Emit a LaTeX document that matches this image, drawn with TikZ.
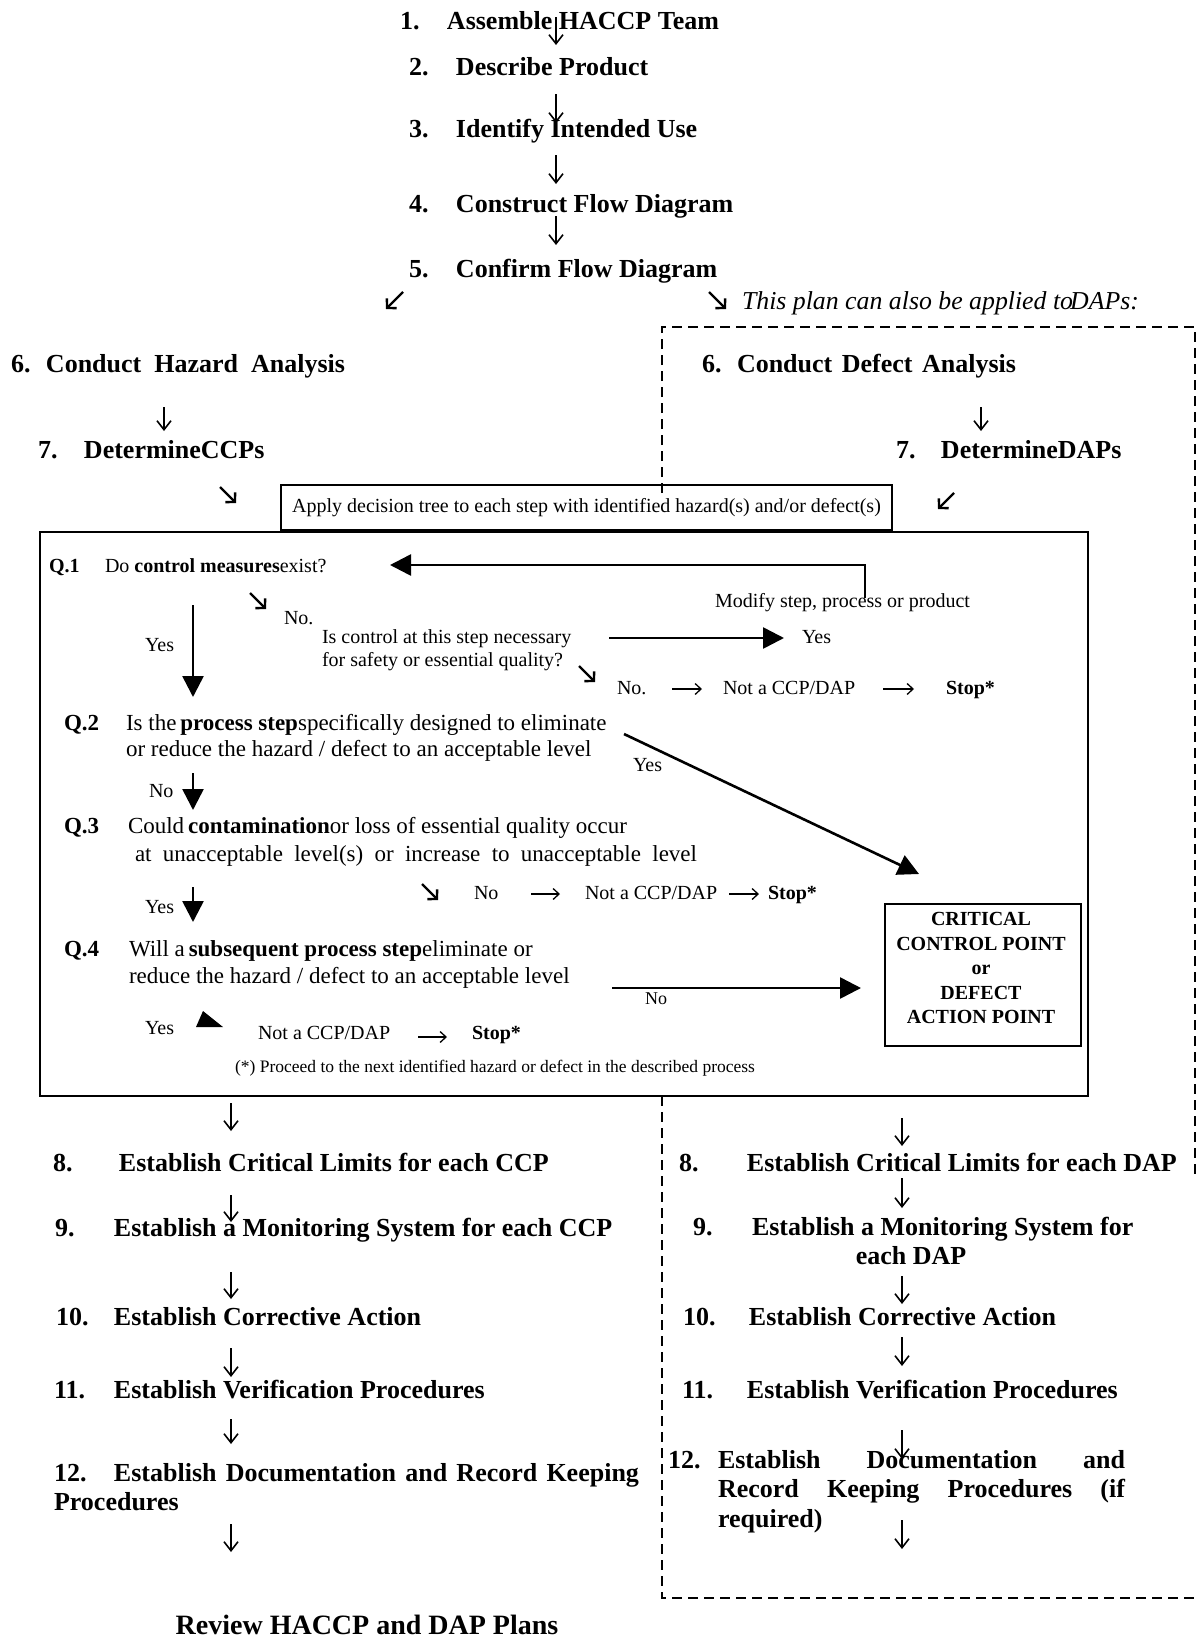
\documentclass[tikz,border=0pt]{standalone}
\usepackage{fontspec}
\setmainfont{Liberation Serif}
\usetikzlibrary{arrows.meta}
\begin{document}
\begin{tikzpicture}[x=1pt,y=-1pt,
  every node/.style={inner sep=0pt, outer sep=0pt},
  txtstep/.style={anchor=base west, font=\fontsize{26}{28}\selectfont\bfseries},
  txtq/.style={anchor=base west, font=\fontsize{23}{27}\selectfont, text height=16pt, text depth=5pt},
  txts/.style={anchor=base west, font=\fontsize{20}{24}\selectfont, text height=14pt, text depth=4pt},
  arrdn/.style={line width=1.6pt, -{Straight Barb[length=9pt,width=14pt]}},
  arrrt/.style={line width=1.3pt, -{Straight Barb[length=6pt,width=11pt]}},
  arrdg/.style={line width=2.4pt, -{Straight Barb[length=6.5pt,width=14pt]}},
  arrbig/.style={line width=2.6pt, line join=miter, -{Triangle[length=21pt,width=21pt]}},
  dashedge/.style={line width=2pt, dash pattern=on 10pt off 6pt},
]
\fill[white] (0,0) rectangle (1198,1638);
\useasboundingbox (0,0) rectangle (1198,1638);

% ---------- top steps ----------
\node[txtstep] (s1) at (400,29) {\makebox[47pt][l]{1.}Assemble HACCP Team};
\node[txtstep] (s2) at (409,75) {\makebox[47pt][l]{2.}Describe Product};
\node[txtstep] (s3) at (409,137) {\makebox[47pt][l]{3.}Identify Intended Use};
\node[txtstep] (s4) at (409,212) {\makebox[47pt][l]{4.}Construct Flow Diagram};
\node[txtstep] (s5) at (409,277) {\makebox[47pt][l]{5.}Confirm Flow Diagram};

\path (556,17) coordinate (a1s) (556,45) coordinate (a1e)
      (556,94) coordinate (a2s) (556,123) coordinate (a2e)
      (556,155) coordinate (a3s) (556,184) coordinate (a3e)
      (556,216) coordinate (a4s) (556,245) coordinate (a4e);
\draw[arrdn] (a1s) -- (a1e);
\draw[arrdn] (a2s) -- (a2e);
\draw[arrdn] (a3s) -- (a3e);
\draw[arrdn] (a4s) -- (a4e);

\path (403,292) coordinate (d1s) (386,309) coordinate (d1e)
      (709,292) coordinate (d2s) (726,309) coordinate (d2e);
\draw[arrdg] (d1s) -- (d1e);
\draw[arrdg] (d2s) -- (d2e);
\node[anchor=base west, font=\fontsize{25.8}{30}\selectfont\itshape] (plan) at (742,309) {This plan can also be applied to\kern-3pt DAPs:};

% ---------- dashed DAP region ----------
\draw[dashedge] (662,493) -- (662,327) -- (1195,327) -- (1195,1180);
\draw[dashedge] (662,1096) -- (662,1598) -- (1198,1598);

% ---------- steps 6 / 7 ----------
\node[txtstep] (h6) at (11,372) {\makebox[35pt][l]{6.}\makebox[299pt][s]{Conduct Hazard Analysis}};
\node[txtstep] (h7) at (38,458) {\makebox[46pt][l]{7.}DetermineCCPs};
\node[txtstep] (d6) at (702,372) {\makebox[35pt][l]{6.}\makebox[279pt][s]{Conduct Defect Analysis}};
\node[txtstep] (d7) at (896,458) {\makebox[45pt][l]{7.}DetermineDAPs};
\path (164,407) coordinate (a6s) (164,431) coordinate (a6e)
      (981,407) coordinate (b6s) (981,431) coordinate (b6e);
\draw[arrdn] (a6s) -- (a6e);
\draw[arrdn] (b6s) -- (b6e);
\path (220,487) coordinate (d3s) (236,503) coordinate (d3e)
      (954,493) coordinate (d4s) (938,509) coordinate (d4e);
\draw[arrdg] (d3s) -- (d3e);
\draw[arrdg] (d4s) -- (d4e);

% ---------- decision tree ----------
\node[draw, line width=1.8pt, minimum width=611pt, minimum height=45pt,
      font=\fontsize{20}{24}\selectfont] (apply) at (586.5,507.5)
      {\raisebox{3pt}{Apply decision tree to each step with identified hazard(s) and/or defect(s)}};
\node[draw, line width=2.6pt, minimum width=1048pt, minimum height=564pt] (tree) at (564,814) {};

% Q.1
\node[txts] (q1n) at (49,572) {\textbf{Q.1}};
\node[txts] (q1) at (105,572) {Do \textbf{control measures}exist?};
\node[txts] (modify) at (715,607) {Modify step, process or product};
\node[txts] (no1) at (284,624) {No.};
\node[txts] (yes1) at (145,651) {Yes};
\node[txts] (ctl1) at (322,643) {Is control at this step necessary};
\node[txts] (ctl2) at (322,666) {for safety or essential quality?};
\node[txts] (yes2) at (802,643) {Yes};
\node[txts] (no2) at (617,694) {No.};
\node[txts] (notc1) at (723,694) {Not a CCP/DAP};
\node[txts] (stop1) at (946,694) {\textbf{Stop*}};

\path (865,598) coordinate (fbs) (390,565) coordinate (fbe);
\draw[arrbig] (fbs) |- (fbe);
\path (250,593) coordinate (d5s) (266,609) coordinate (d5e)
      (579,666) coordinate (d6s) (595,682) coordinate (d6e);
\draw[arrdg] (d5s) -- (d5e);
\draw[arrdg] (d6s) -- (d6e);
\path (193,605) coordinate (ya1) (193,697) coordinate (ya2);
\draw[arrbig] (ya1) -- (ya2);
\path (609,638) coordinate (ys1);
\draw[arrbig, shorten >=18pt] (ys1) -- (yes2.west);
\draw[arrrt, shorten <=26pt, shorten >=21pt] (no2.east) -- (notc1.west);
\draw[arrrt, shorten <=28pt, shorten >=32pt] (notc1.east) -- (stop1.west);

% Q.2
\node[txtq] (q2n) at (64,730) {\textbf{Q.2}};
\node[txtq] (q2a) at (126,730) {Is the\,\textbf{process step}specifically designed to eliminate};
\node[txtq] (q2b) at (126,756) {or reduce the hazard / defect to an acceptable level};
\node[txts] (yes3) at (633,771) {Yes};
\node[txts] (no3) at (149,797) {No};
\path (193,773) coordinate (n2s) (193,810) coordinate (n2e);
\draw[arrbig] (n2s) -- (n2e);

% Q.3
\node[txtq] (q3n) at (64,833) {\textbf{Q.3}};
\node[txtq] (q3a) at (128,833) {Could\,\textbf{contamination}or loss of essential quality occur};
\node[txtq] (q3b) at (135,861) {\makebox[562pt][s]{at unacceptable level(s) or increase to unacceptable level}};
\node[txts] (no4) at (474,899) {No};
\node[txts] (notc2) at (585,899) {Not a CCP/DAP};
\node[txts] (stop2) at (768,899) {\textbf{Stop*}};
\node[txts] (yes4) at (145,913) {Yes};
\path (422,884) coordinate (d7s) (438,900) coordinate (d7e);
\draw[arrdg] (d7s) -- (d7e);
\draw[arrrt, shorten <=33pt, shorten >=25pt] (no4.east) -- (notc2.west);
\draw[arrrt, shorten <=12pt, shorten >=9pt] (notc2.east) -- (stop2.west);
\path (193,887) coordinate (y3s) (193,922) coordinate (y3e);
\draw[arrbig] (y3s) -- (y3e);

% Q.4
\node[txtq] (q4n) at (64,956) {\textbf{Q.4}};
\node[txtq] (q4a) at (129,956) {Will a\,\textbf{subsequent process step}eliminate or};
\node[txtq] (q4b) at (129,983) {reduce the hazard / defect to an acceptable level};
\node[anchor=base west, font=\fontsize{18}{22}\selectfont] (no5) at (645,1004) {No};
\node[draw, line width=2.4pt, minimum width=196pt, minimum height=142pt] (ccp) at (983,975) {};
\node[font=\fontsize{20}{24.5}\selectfont\bfseries, align=center] (ccptxt) at (981,968)
      {CRITICAL\\CONTROL POINT\\or\\DEFECT\\ACTION POINT};
\path (624,734) coordinate (dys) (919,874) coordinate (dye);
\draw[arrbig] (dys) -- (dye);
\path (612,988) coordinate (q4s) (861,988) coordinate (q4e);
\draw[arrbig] (q4s) -- (q4e);

\node[txts] (yes5) at (145,1034) {Yes};
\fill (203,1011) -- (223,1027) -- (196,1027) -- cycle;
\node[txts] (notc3) at (258,1039) {Not a CCP/DAP};
\node[txts] (stop3) at (472,1039) {\textbf{Stop*}};
\draw[arrrt, shorten <=28pt, shorten >=25pt] ([yshift=-3pt]notc3.east) -- ([yshift=-3pt]stop3.west);
\node[anchor=base west, font=\fontsize{17.5}{21}\selectfont] (foot) at (235,1072)
      {(*) Proceed to the next identified hazard or defect in the described process};

% ---------- steps 8 - 12, left ----------
\node[txtstep] (l8) at (53,1171) {\makebox[66pt][l]{8.}Establish Critical Limits for each CCP};
\node[txtstep] (l9) at (55,1236) {\makebox[59pt][l]{9.}Establish a Monitoring System for each CCP};
\node[txtstep] (l10) at (56,1325) {\makebox[58pt][l]{10.}Establish Corrective Action};
\node[txtstep] (l11) at (54,1398) {\makebox[60pt][l]{11.}Establish Verification Procedures};
\node[txtstep] (l12) at (54,1481) {\parbox[t]{585pt}{\fontsize{26}{29}\selectfont\makebox[60pt][l]{12.}Establish Documentation and Record Keeping\linebreak Procedures}};
\node[anchor=base, font=\fontsize{28}{32}\selectfont\bfseries] (review) at (367,1634) {Review HACCP and DAP Plans};

\path (231,1103) coordinate (l1s) (231,1131) coordinate (l1e)
      (231,1195) coordinate (l2s) (231,1222) coordinate (l2e)
      (231,1272) coordinate (l3s) (231,1299) coordinate (l3e)
      (231,1348) coordinate (l4s) (231,1377) coordinate (l4e)
      (231,1419) coordinate (l5s) (231,1444) coordinate (l5e)
      (231,1524) coordinate (l6s) (231,1552) coordinate (l6e);
\draw[arrdn] (l1s) -- (l1e);
\draw[arrdn] (l2s) -- (l2e);
\draw[arrdn] (l3s) -- (l3e);
\draw[arrdn] (l4s) -- (l4e);
\draw[arrdn] (l5s) -- (l5e);
\draw[arrdn] (l6s) -- (l6e);

% ---------- steps 8 - 12, right ----------
\node[txtstep] (r8) at (679,1171) {\makebox[68pt][l]{8.}Establish Critical Limits for each DAP};
\node[txtstep] (r9) at (693,1235) {\makebox[59pt][l]{9.}Establish a Monitoring System for};
\node[txtstep, anchor=base] (r9b) at (911,1264) {each DAP};
\node[txtstep] (r10) at (683,1325) {\makebox[66pt][l]{10.}Establish Corrective Action};
\node[txtstep] (r11) at (682,1398) {\makebox[65pt][l]{11.}Establish Verification Procedures};
\node[txtstep] (r12n) at (668,1468) {12.};
\node[txtstep, font=\fontsize{26}{29.5}\selectfont\bfseries] (r12) at (718,1468)
      {\parbox[t]{407pt}{Establish Documentation and\linebreak Record Keeping Procedures (if\linebreak required)}};

\path (902,1118) coordinate (r1s) (902,1146) coordinate (r1e)
      (902,1178) coordinate (r2s) (902,1208) coordinate (r2e)
      (902,1276) coordinate (r3s) (902,1304) coordinate (r3e)
      (902,1337) coordinate (r4s) (902,1366) coordinate (r4e)
      (902,1430) coordinate (r5s) (902,1459) coordinate (r5e)
      (902,1520) coordinate (r6s) (902,1549) coordinate (r6e);
\draw[arrdn] (r1s) -- (r1e);
\draw[arrdn] (r2s) -- (r2e);
\draw[arrdn] (r3s) -- (r3e);
\draw[arrdn] (r4s) -- (r4e);
\draw[arrdn] (r5s) -- (r5e);
\draw[arrdn] (r6s) -- (r6e);
\end{tikzpicture}
\end{document}
